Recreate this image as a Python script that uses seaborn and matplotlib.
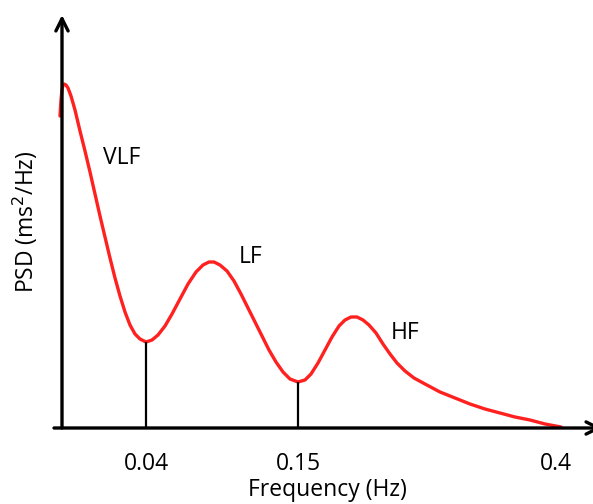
import matplotlib
matplotlib.use("Agg")
import matplotlib.pyplot as plt
import seaborn as sns
import pandas as pd

sns.set_theme(style="white")
plt.rcParams['font.family'] = ['Open Sans', 'DejaVu Sans']
plt.rcParams['text.color'] = 'black'
plt.rcParams['axes.labelcolor'] = 'black'
plt.rcParams['xtick.color'] = 'black'

# Curve (horizontal position in display units, PSD in arbitrary units)
pos = [-2, -1, 0, 1, 2, 4, 6, 9, 13, 18, 23, 28, 33, 38, 43, 48, 53, 58, 63, 68,
       73, 78, 84, 90, 96, 103, 110, 118, 126, 134, 141, 147, 152, 158, 165, 172,
       179, 186, 193, 200, 207, 214, 221, 228, 236, 243, 249, 256, 263, 270, 277,
       283, 289, 295, 301, 307, 314, 321, 328, 335, 343, 352, 363, 378, 393, 408,
       423, 438, 453, 468, 483, 499]
psd = [312, 328, 338, 343, 344, 343, 340, 332, 318, 297, 277, 256, 234, 212, 191,
       170, 150, 132, 116, 103, 94, 89, 86, 88, 93, 102, 114, 129, 144, 156, 163,
       166, 166, 163, 157, 147, 134, 120, 106, 92, 78, 66, 56, 49, 46, 48, 54, 65,
       78, 91, 102, 108, 111, 111, 108, 103, 95, 84, 74, 65, 57, 50, 44, 36, 30,
       24, 19, 15, 11, 8, 4, 1]

band_edges = [84, 236]           # positions of 0.04 and 0.15 Hz
band_edge_psd = [86, 46]
tick_pos = [84, 236, 494]
tick_labels = ["0.04", "0.15", "0.4"]
band_names = ["VLF", "LF", "HF"]
band_label_pos = [(60, 270), (189, 171), (343, 95)]

df = pd.DataFrame({"pos": pos, "psd": psd})

fig = plt.figure(figsize=(5.93, 5.04), dpi=100)
ax = fig.add_axes([62 / 593, 76 / 504, 531 / 593, 413 / 504])
ax.set_xlim(0, 531)
ax.set_ylim(0, 413)

sns.lineplot(data=df, x="pos", y="psd", ax=ax, color="#FF2020", lw=2.4,
             sort=False, clip_on=False, solid_joinstyle="round",
             solid_capstyle="round")
ax.vlines(band_edges, 0, band_edge_psd, color="black", lw=1.6)

for s in ax.spines.values():
    s.set_visible(False)

# axes with arrows
ax.annotate("", xy=(0, 413), xytext=(0, 0), xycoords="data",
            arrowprops=dict(arrowstyle="->", lw=2.4, color="black",
                            mutation_scale=22, shrinkA=0, shrinkB=0),
            annotation_clip=False)
ax.annotate("", xy=(540, 0), xytext=(-8, 0), xycoords="data",
            arrowprops=dict(arrowstyle="->", lw=2.4, color="black",
                            mutation_scale=22, shrinkA=0, shrinkB=0),
            annotation_clip=False)

ax.set_xticks(tick_pos)
ax.set_xticklabels(tick_labels, fontsize=16.5)
ax.set_yticks([])
ax.tick_params(axis="x", length=0, pad=17)

for name, (x, y) in zip(band_names, band_label_pos):
    ax.text(x, y, name, fontsize=16.5, ha="center", va="center")

ax.set_xlabel("Frequency (Hz)", fontsize=16.5, labelpad=2)
ax.set_ylabel("PSD (ms$^2$/Hz)", fontsize=16.5, labelpad=16)

fig.savefig("out.png", dpi=100)
